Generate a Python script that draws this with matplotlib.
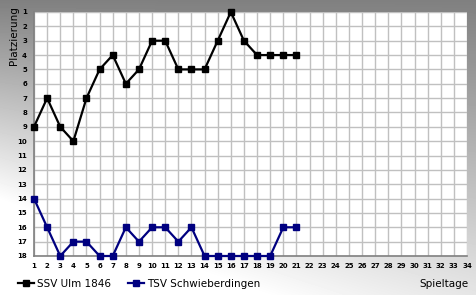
import numpy as np
import matplotlib
matplotlib.use("Agg")
import matplotlib.pyplot as plt

spieltage = list(range(1, 22))
ulm = [9, 7, 9, 10, 7, 5, 4, 6, 5, 3, 3, 5, 5, 5, 3, 1, 3, 4, 4, 4, 4]
schwieberdingen = [14, 16, 18, 17, 17, 18, 18, 16, 17, 16, 16, 17, 16, 18, 18, 18, 18, 18, 18, 16, 16]
x_ticks = list(range(1, 35))
y_ticks = list(range(1, 19))

W, H = 477, 295
fig = plt.figure(figsize=(W / 100, H / 100), dpi=100)

# background gradient: gray at top/right, fading to white at bottom left
bg = fig.add_axes([0, 0, 1, 1], zorder=-10)
yy, xx = np.mgrid[0:H, 0:W]
s = np.clip(yy / (200 + 170 * xx / W), 0, 1)
val = 128 + 127 * s
bg.imshow(val, cmap="gray", vmin=0, vmax=255, aspect="auto", interpolation="bilinear")
bg.axis("off")

ax = fig.add_axes([34 / W, 1 - 256 / H, (467 - 34) / W, (256 - 12) / H])
ax.set_facecolor("white")
ax.plot(spieltage, ulm, color="black", lw=1.6, marker="s", ms=5,
        label="SSV Ulm 1846", clip_on=False, zorder=3)
ax.plot(spieltage, schwieberdingen, color="#000080", lw=1.6, marker="s", ms=5,
        label="TSV Schwieberdingen", clip_on=False, zorder=3)

ax.set_xlim(1, 34)
ax.set_ylim(18, 1)
ax.set_xticks(x_ticks)
ax.set_yticks(y_ticks)
ax.grid(True, color="#c0c0c0", lw=1)
ax.set_axisbelow(True)
for side in ["top", "right"]:
    ax.spines[side].set_visible(False)
for side in ["left", "bottom"]:
    ax.spines[side].set_color("#808080")
    ax.spines[side].set_linewidth(1.2)
ax.tick_params(length=0, labelsize=5, pad=5, colors="black")
for lab in ax.get_xticklabels() + ax.get_yticklabels():
    lab.set_fontweight("bold")

fig.text(14 / W, 1 - 36 / H, "Platzierung", rotation=90, ha="center", va="center",
         fontsize=7.5, color="#000000")
fig.text(469 / W, 1 - 284 / H, "Spieltage", ha="right", va="center", fontsize=7.5)

ax.legend(loc="center left", bbox_to_anchor=(18 / W, 1 - 284 / H),
          bbox_transform=fig.transFigure, ncol=2, frameon=False, fontsize=7.5,
          handlelength=1.5, handletextpad=0.3, columnspacing=1.7, borderpad=0,
          borderaxespad=0)

fig.savefig("out.png", dpi=100)
